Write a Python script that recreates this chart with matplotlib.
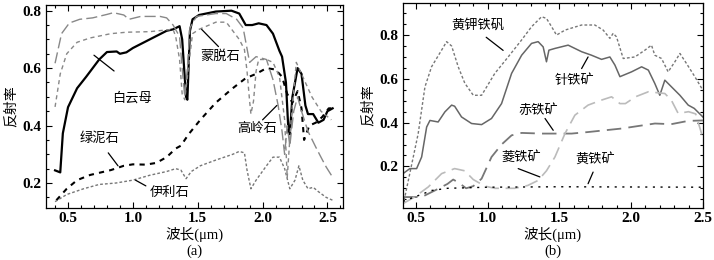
import matplotlib
matplotlib.use("Agg")
import matplotlib.pyplot as plt
from matplotlib.ticker import MultipleLocator, FormatStrFormatter

# ---- panel (a): clay minerals ----
mica_w = [0.40, 0.44, 0.46, 0.50, 0.57, 0.64, 0.74, 0.80, 0.875, 0.90, 0.95, 1.0, 1.13, 1.26, 1.31,
          1.36, 1.38, 1.41, 1.42, 1.44, 1.46, 1.51, 1.64, 1.76, 1.82, 1.87, 1.92, 1.97, 2.03, 2.08,
          2.13, 2.15, 2.18, 2.20, 2.21, 2.23, 2.27, 2.30, 2.33, 2.35, 2.39, 2.43, 2.47, 2.50, 2.54]
mica_r = [0.244, 0.237, 0.373, 0.464, 0.53, 0.57, 0.63, 0.656, 0.658, 0.65, 0.655, 0.67, 0.70, 0.73, 0.735,
          0.746, 0.70, 0.50, 0.49, 0.73, 0.77, 0.785, 0.797, 0.80, 0.79, 0.75, 0.75, 0.756, 0.75, 0.72,
          0.66, 0.64, 0.55, 0.375, 0.37, 0.50, 0.60, 0.58, 0.47, 0.44, 0.44, 0.41, 0.42, 0.45, 0.46]

chlorite_w = [0.41, 0.49, 0.57, 0.67, 0.83, 0.93, 1.0, 1.1, 1.18, 1.26, 1.33, 1.37, 1.40, 1.43, 1.52,
              1.64, 1.77, 1.87, 1.95, 2.03, 2.10, 2.15, 2.19, 2.23, 2.27, 2.30, 2.32, 2.36, 2.41,
              2.46, 2.51, 2.54]
chlorite_r = [0.14, 0.18, 0.21, 0.228, 0.245, 0.26, 0.265, 0.264, 0.27, 0.29, 0.32, 0.33, 0.35, 0.37, 0.42,
              0.48, 0.53, 0.565, 0.58, 0.60, 0.595, 0.57, 0.51, 0.48, 0.52, 0.46, 0.35, 0.40, 0.41,
              0.43, 0.46, 0.46]

illite_w = [0.40, 0.49, 0.62, 0.74, 0.87, 1.0, 1.13, 1.26, 1.33, 1.37, 1.41, 1.45, 1.52, 1.64, 1.77,
            1.82, 1.86, 1.88, 1.91, 1.95, 2.03, 2.08, 2.13, 2.17, 2.21, 2.25, 2.28, 2.31, 2.35,
            2.39, 2.43, 2.49, 2.54]
illite_r = [0.135, 0.16, 0.18, 0.195, 0.20, 0.21, 0.227, 0.24, 0.25, 0.245, 0.215, 0.24, 0.26, 0.28, 0.30,
            0.31, 0.305, 0.245, 0.18, 0.21, 0.26, 0.29, 0.29, 0.25, 0.18, 0.21, 0.26, 0.21, 0.18,
            0.185, 0.17, 0.15, 0.14]

montm_w = [0.40, 0.44, 0.49, 0.57, 0.67, 0.83, 0.95, 1.13, 1.26, 1.31, 1.33, 1.36, 1.38, 1.40, 1.43,
           1.46, 1.51, 1.64, 1.72, 1.77, 1.82, 1.86, 1.88, 1.90, 1.91, 1.93, 1.95, 1.97, 2.03, 2.08,
           2.13, 2.17, 2.19, 2.22, 2.26, 2.30, 2.38, 2.45, 2.53]
montm_r = [0.465, 0.58, 0.65, 0.69, 0.705, 0.72, 0.725, 0.727, 0.733, 0.735, 0.71, 0.63, 0.51, 0.49, 0.61,
           0.72, 0.735, 0.76, 0.76, 0.73, 0.70, 0.665, 0.59, 0.485, 0.44, 0.485, 0.59, 0.63, 0.63, 0.62,
           0.57, 0.42, 0.22, 0.42, 0.62, 0.58, 0.50, 0.45, 0.42]

kaol_w = [0.40, 0.45, 0.51, 0.59, 0.69, 0.80, 0.85, 0.93, 0.97, 1.06, 1.21, 1.26, 1.31, 1.36, 1.38,
          1.40, 1.42, 1.44, 1.49, 1.64, 1.72, 1.80, 1.85, 1.90, 1.95, 2.03, 2.08, 2.12, 2.15, 2.17,
          2.19, 2.21, 2.24, 2.27, 2.30, 2.35, 2.41, 2.45, 2.49, 2.54]
kaol_r = [0.617, 0.72, 0.757, 0.77, 0.775, 0.787, 0.793, 0.785, 0.77, 0.78, 0.78, 0.775, 0.75, 0.71, 0.60,
          0.50, 0.60, 0.74, 0.78, 0.79, 0.79, 0.77, 0.74, 0.62, 0.64, 0.63, 0.56, 0.47, 0.38, 0.30,
          0.40, 0.33, 0.45, 0.50, 0.45, 0.38, 0.325, 0.29, 0.256, 0.22]

# ---- panel (b): iron minerals ----
jaro_w = [0.418, 0.516, 0.563, 0.609, 0.679, 0.714, 0.749, 0.795, 0.841, 0.90, 0.958, 1.05, 1.143, 1.236,
          1.306, 1.376, 1.41, 1.446, 1.48, 1.54, 1.655, 1.747, 1.805, 1.852, 1.875, 1.898, 1.945, 2.026,
          2.096, 2.142, 2.165, 2.212, 2.258, 2.305, 2.34, 2.386, 2.444, 2.50]
jaro_r = [0.045, 0.35, 0.563, 0.655, 0.731, 0.77, 0.75, 0.655, 0.58, 0.525, 0.525, 0.625, 0.70, 0.777,
          0.838, 0.884, 0.876, 0.838, 0.80, 0.823, 0.846, 0.846, 0.823, 0.785, 0.808, 0.792, 0.693, 0.70,
          0.731, 0.754, 0.708, 0.693, 0.632, 0.678, 0.716, 0.67, 0.61, 0.548]

goet_w = [0.41, 0.458, 0.505, 0.54, 0.575, 0.598, 0.655, 0.702, 0.749, 0.77, 0.818, 0.888, 0.958, 1.027,
          1.097, 1.167, 1.237, 1.306, 1.352, 1.387, 1.41, 1.427, 1.469, 1.561, 1.655, 1.724, 1.794,
          1.852, 1.887, 1.922, 2.003, 2.073, 2.12, 2.165, 2.20, 2.235, 2.282, 2.34, 2.398, 2.44, 2.50]
goet_r = [0.167, 0.19, 0.19, 0.243, 0.38, 0.41, 0.403, 0.449, 0.48, 0.475, 0.426, 0.396, 0.391, 0.419,
          0.487, 0.625, 0.708, 0.762, 0.77, 0.746, 0.678, 0.731, 0.739, 0.754, 0.724, 0.708, 0.689,
          0.70, 0.663, 0.61, 0.632, 0.655, 0.64, 0.579, 0.525, 0.594, 0.563, 0.525, 0.48, 0.465, 0.426]

hema_w = [0.41, 0.54, 0.632, 0.72, 0.76, 0.80, 0.85, 0.90, 0.958, 1.027, 1.097, 1.167, 1.237, 1.376,
          1.469, 1.585, 1.70, 1.933, 2.166, 2.28, 2.398, 2.50]
hema_r = [0.06, 0.06, 0.09, 0.12, 0.14, 0.125, 0.10, 0.11, 0.144, 0.243, 0.30, 0.342, 0.353, 0.35,
          0.35, 0.35, 0.357, 0.373, 0.396, 0.393, 0.408, 0.41]

sider_w = [0.41, 0.49, 0.586, 0.679, 0.77, 0.84, 0.90, 0.98, 1.05, 1.19, 1.28, 1.352, 1.41, 1.469,
           1.539, 1.608, 1.70, 1.794, 1.864, 1.922, 1.96, 2.03, 2.12, 2.235, 2.28, 2.328, 2.40,
           2.45, 2.50]
sider_r = [0.03, 0.06, 0.106, 0.167, 0.19, 0.18, 0.14, 0.11, 0.10, 0.10, 0.113, 0.136, 0.18, 0.243,
           0.35, 0.434, 0.48, 0.503, 0.518, 0.487, 0.487, 0.518, 0.541, 0.533, 0.503, 0.442, 0.45,
           0.44, 0.33]

pyr_w = [0.41, 0.49, 0.61, 0.72, 1.0, 1.5, 2.0, 2.5]
pyr_r = [0.04, 0.06, 0.09, 0.10, 0.105, 0.107, 0.106, 0.105]

# tick numbers in bold serif, Chinese falls back to Noto CJK
plt.rcParams['font.family'] = ['Liberation Serif', 'Noto Sans CJK SC']
plt.rcParams['font.weight'] = 'bold'
plt.rcParams['xtick.labelsize'] = 11
plt.rcParams['ytick.labelsize'] = 11
cjk = ['Noto Sans CJK SC', 'DejaVu Sans']

fig = plt.figure(figsize=(7.14, 2.6), dpi=100)
axa = fig.add_axes([0.0644, 0.2, 0.416, 0.781])
axb = fig.add_axes([0.5644, 0.2, 0.420, 0.788])

axa.plot(mica_w, mica_r, color='black', lw=1.6)
axa.plot(chlorite_w, chlorite_r, color='black', lw=1.5, dashes=(2.5, 2.5))
axa.plot(illite_w, illite_r, color='#777777', lw=1.0, dashes=(2, 1.5))
axa.plot(montm_w, montm_r, color='#888888', lw=1.0, dashes=(3, 2.5))
axa.plot(kaol_w, kaol_r, color='#888888', lw=1.0, dashes=(8, 3))

axb.plot(jaro_w, jaro_r, color='#777777', lw=1.0, dashes=(2, 1.5))
axb.plot(goet_w, goet_r, color='#666666', lw=1.1)
axb.plot(hema_w, hema_r, color='#777777', lw=1.3, dashes=(8, 4))
axb.plot(sider_w, sider_r, color='#bbbbbb', lw=1.2, dashes=(8, 4))
axb.plot(pyr_w, pyr_r, color='black', lw=1.0, dashes=(1.5, 4))

arrow = dict(arrowstyle='-', color='black', lw=0.9, shrinkA=0, shrinkB=0)

def label(ax, txt, xy, xytext, tx, ty):
    ax.text(tx, ty, txt, family=cjk, weight='normal', fontsize=9.5, ha='center', va='center')
    ax.annotate('', xy=xy, xytext=xytext, arrowprops=arrow)

label(axa, '白云母', (0.70, 0.645), (0.855, 0.59), 0.99, 0.496)
label(axa, '蒙脱石', (1.53, 0.735), (1.66, 0.675), 1.67, 0.64)
label(axa, '高岭石', (2.11, 0.47), (2.0, 0.42), 1.96, 0.39)
label(axa, '绿泥石', (0.885, 0.26), (0.81, 0.305), 0.745, 0.356)
label(axa, '伊利石', (1.02, 0.21), (1.10, 0.19), 1.285, 0.167)

label(axb, '黄钾铁矾', (1.108, 0.73), (0.99, 0.79), 0.934, 0.846)
label(axb, '针铁矿', (1.70, 0.70), (1.655, 0.647), 1.608, 0.594)
label(axb, '赤铁矿', (1.457, 0.365), (1.40, 0.419), 1.352, 0.457)
label(axb, '菱铁矿', (1.364, 0.152), (1.213, 0.19), 1.236, 0.243)
label(axb, '黄铁矿', (1.70, 0.121), (1.735, 0.174), 1.747, 0.228)

axa.set_xlim(0.33, 2.62)
axa.set_ylim(0.113, 0.82)
axb.set_xlim(0.41, 2.5)
axb.set_ylim(0.01, 0.946)

for ax, tag in ((axa, '(a)'), (axb, '(b)')):
    ax.xaxis.set_major_locator(MultipleLocator(0.5))
    ax.xaxis.set_minor_locator(MultipleLocator(0.1))
    ax.set_yticks([0.2, 0.4, 0.6, 0.8])
    ax.yaxis.set_minor_locator(MultipleLocator(0.05))
    ax.xaxis.set_major_formatter(FormatStrFormatter('%.1f'))
    ax.yaxis.set_major_formatter(FormatStrFormatter('%.1f'))
    ax.tick_params(which='both', direction='in', top=True, right=True, width=0.8)
    ax.tick_params(which='major', length=4, pad=3)
    ax.tick_params(which='minor', length=2.5)
    for sp in ax.spines.values():
        sp.set_linewidth(0.9)
    ax.set_xlabel('波长(μm)', fontsize=10.5, weight='normal', labelpad=1)
    ax.set_ylabel('反射率', family=cjk, weight='normal', fontsize=10, labelpad=4)
    pos = ax.get_position()
    fig.text((pos.x0 + pos.x1) / 2, 0.035, tag, ha='center', va='center',
             fontsize=10.5, weight='normal')

fig.savefig('out.png', dpi=100)
